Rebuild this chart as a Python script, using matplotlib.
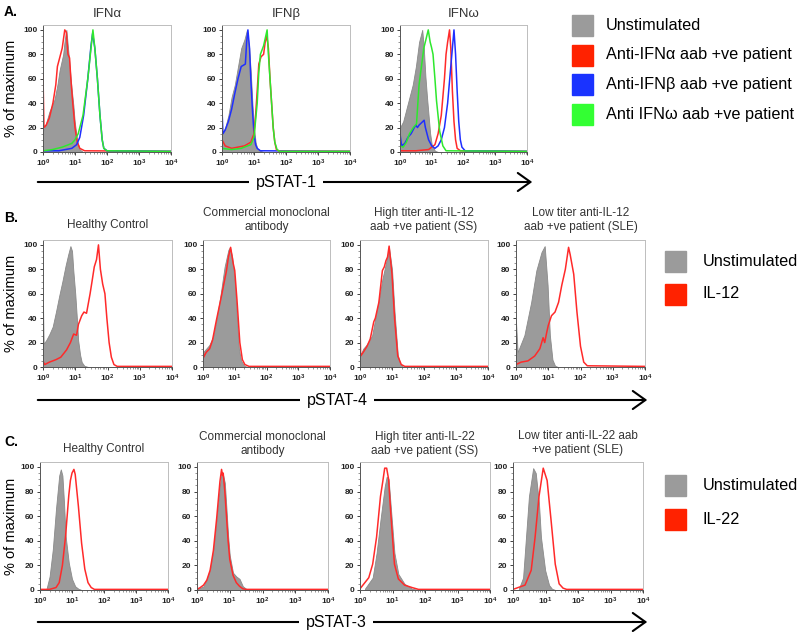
import numpy as np
import matplotlib
matplotlib.use("Agg")
import matplotlib.pyplot as plt
import matplotlib.ticker as mticker
from matplotlib.patches import Rectangle, FancyArrowPatch

plt.rcParams['font.family'] = ['Liberation Sans', 'DejaVu Sans']

# ---- data: x in log10 units (10^0..10^4), y in % of maximum ----
# Panel A: pSTAT-1
A1_UNSTIM = ([0.0, 0.1, 0.2, 0.31, 0.36, 0.45, 0.52, 0.63, 0.68, 0.73, 0.8, 0.89, 0.95, 0.99, 1.07, 1.15, 1.25],
             [17, 24, 33, 40, 43, 55, 67, 80, 92, 100, 80, 53, 38, 25, 9, 2, 0])
A1_ANTI_A = ([0.0, 0.03, 0.1, 0.2, 0.31, 0.4, 0.45, 0.55, 0.6, 0.68, 0.73, 0.78, 0.83, 0.87, 0.93, 1.0, 1.07, 1.15, 1.3, 4.0],
             [63, 20, 22, 28, 40, 55, 70, 80, 85, 100, 98, 80, 77, 60, 40, 20, 8, 3, 1, 0.5])
A1_ANTI_B = ([0.0, 0.5, 0.9, 1.05, 1.15, 1.27, 1.4, 1.5, 1.55, 1.62, 1.7, 1.78, 1.85, 1.9, 2.0, 4.0],
             [1, 1, 3, 6, 12, 30, 60, 87, 97, 85, 60, 30, 10, 3, 1, 0.5])
A1_ANTI_W = ([0.0, 0.3, 0.6, 0.9, 1.0, 1.1, 1.25, 1.4, 1.5, 1.56, 1.62, 1.7, 1.78, 1.85, 1.9, 2.0, 4.0],
             [1, 2, 4, 7, 10, 15, 30, 60, 85, 100, 85, 60, 30, 10, 3, 1, 0.5])

A2_UNSTIM = ([0.0, 0.1, 0.2, 0.3, 0.4, 0.5, 0.6, 0.7, 0.78, 0.85, 0.9, 0.95, 1.0, 1.05, 1.1, 1.2, 1.3],
             [15, 20, 30, 45, 55, 70, 85, 92, 100, 85, 65, 40, 20, 8, 3, 1, 0])
A2_ANTI_A = ([0.0, 0.1, 0.2, 0.3, 0.5, 0.7, 0.9, 1.0, 1.05, 1.1, 1.15, 1.22, 1.3, 1.35, 1.4, 1.45, 1.5, 1.55, 1.6, 1.65, 1.7, 1.8, 4.0],
             [10, 5, 4, 3, 4, 5, 8, 15, 30, 50, 72, 78, 80, 90, 95, 85, 60, 40, 20, 8, 2, 0.5, 0.5])
A2_ANTI_B = ([0.0, 0.03, 0.1, 0.2, 0.3, 0.4, 0.5, 0.6, 0.73, 0.77, 0.81, 0.86, 0.9, 0.95, 1.0, 1.05, 1.1, 1.2, 4.0],
             [35, 15, 18, 25, 35, 48, 60, 70, 72, 90, 100, 85, 60, 35, 15, 6, 3, 1, 0.5])
A2_ANTI_W = ([0.0, 0.3, 0.6, 0.9, 1.0, 1.1, 1.15, 1.2, 1.3, 1.41, 1.45, 1.5, 1.55, 1.6, 1.65, 1.72, 1.8, 4.0],
             [3, 2, 3, 6, 12, 40, 65, 80, 87, 100, 80, 60, 40, 20, 8, 2, 0.5, 0.5])

A3_UNSTIM = ([0.0, 0.1, 0.2, 0.3, 0.4, 0.5, 0.55, 0.6, 0.7, 0.75, 0.8, 0.85, 0.9, 0.95, 1.0, 1.1, 1.2],
             [20, 25, 35, 45, 55, 70, 80, 90, 100, 85, 62, 45, 30, 15, 6, 1, 0])
A3_ANTI_A = ([0.0, 0.5, 0.9, 1.1, 1.2, 1.3, 1.4, 1.45, 1.5, 1.56, 1.6, 1.65, 1.7, 1.75, 1.8, 1.9, 4.0],
             [1, 1, 2, 6, 15, 30, 60, 80, 90, 100, 85, 50, 25, 10, 3, 1, 0.5])
A3_ANTI_B = ([0.0, 0.05, 0.15, 0.25, 0.35, 0.45, 0.5, 0.55, 0.6, 0.76, 0.8, 0.9, 1.0, 1.1, 1.2, 1.3, 1.4, 1.5, 1.55, 1.6, 1.65, 1.7, 1.75, 1.8, 1.85, 1.9, 1.95, 2.05, 4.0],
             [15, 5, 7, 12, 15, 20, 22, 20, 22, 26, 20, 10, 5, 3, 5, 10, 20, 40, 55, 70, 85, 100, 80, 50, 25, 10, 4, 1, 0.5])
A3_ANTI_W = ([0.0, 0.1, 0.2, 0.3, 0.42, 0.52, 0.6, 0.7, 0.75, 0.89, 0.95, 0.99, 1.04, 1.1, 1.15, 1.25, 1.35, 1.45, 4.0],
             [5, 4, 8, 15, 20, 23, 55, 75, 85, 100, 90, 86, 80, 60, 42, 17, 5, 1, 0.5])

# Panel B: pSTAT-4
B1_UNSTIM = ([0.0, 0.02, 0.1, 0.2, 0.3, 0.4, 0.5, 0.6, 0.7, 0.78, 0.85, 0.9, 0.94, 1.0, 1.05, 1.09, 1.15, 1.2, 1.28, 1.4],
             [51, 19, 22, 27, 33, 45, 58, 70, 83, 92, 99, 95, 79, 60, 40, 22, 10, 4, 1, 0])
B1_IL12 = ([0.0, 0.05, 0.2, 0.4, 0.55, 0.73, 0.85, 0.95, 1.04, 1.1, 1.2, 1.27, 1.35, 1.46, 1.52, 1.59, 1.66, 1.72, 1.78, 1.85, 1.92, 1.98, 2.05, 2.12, 2.2, 2.3, 4.0],
           [5, 2, 4, 6, 8, 14, 20, 27, 26, 35, 42, 45, 44, 60, 70, 82, 88, 100, 80, 68, 60, 40, 20, 8, 2, 0.5, 0.5])
B2_UNSTIM = ([0.0, 0.1, 0.2, 0.32, 0.42, 0.53, 0.68, 0.8, 0.85, 0.92, 1.0, 1.07, 1.13, 1.2, 1.3, 1.4],
             [12, 15, 18, 25, 38, 55, 82, 96, 98, 90, 70, 40, 15, 5, 1, 0])
B2_MAB = ([0.0, 0.02, 0.1, 0.21, 0.3, 0.42, 0.58, 0.74, 0.8, 0.87, 0.95, 1.0, 1.07, 1.16, 1.24, 1.32, 1.45, 4.0],
          [16, 8, 12, 15, 22, 38, 58, 79, 90, 98, 85, 79, 55, 20, 6, 2, 0.5, 0.5])
B3_UNSTIM = ([0.0, 0.05, 0.1, 0.2, 0.3, 0.38, 0.48, 0.59, 0.7, 0.81, 0.91, 1.0, 1.08, 1.18, 1.25, 1.35],
             [10, 12, 15, 18, 22, 26, 40, 55, 72, 85, 97, 80, 45, 10, 3, 0])
B3_SS = ([0.0, 0.02, 0.1, 0.22, 0.32, 0.43, 0.48, 0.59, 0.7, 0.76, 0.81, 0.86, 0.91, 1.0, 1.08, 1.18, 1.29, 1.4, 4.0],
         [35, 9, 12, 17, 23, 37, 40, 53, 79, 82, 87, 90, 99, 76, 40, 9, 2, 0.5, 0.5])
B4_UNSTIM = ([0.0, 0.05, 0.26, 0.47, 0.63, 0.79, 0.89, 0.98, 1.05, 1.13, 1.21, 1.3],
             [37, 12, 26, 53, 79, 94, 99, 67, 26, 6, 1, 0])
B4_SLE = ([0.0, 0.16, 0.37, 0.58, 0.74, 0.84, 0.89, 0.95, 1.0, 1.1, 1.21, 1.32, 1.42, 1.53, 1.63, 1.68, 1.79, 1.89, 2.0, 2.1, 2.21, 4.0],
          [2, 4, 5, 9, 15, 24, 20, 28, 34, 42, 45, 53, 67, 80, 98, 92, 76, 45, 17, 4, 1, 0.5])

# Panel C: pSTAT-3
C1_UNSTIM = ([0.2, 0.3, 0.4, 0.5, 0.6, 0.65, 0.7, 0.75, 0.8, 0.9, 1.0, 1.1, 1.2, 1.3],
             [0.5, 11, 33, 66, 93, 98, 93, 71, 44, 22, 9, 3, 1, 0])
C1_IL22 = ([0.0, 0.3, 0.5, 0.6, 0.7, 0.8, 0.9, 0.95, 1.0, 1.06, 1.1, 1.2, 1.3, 1.4, 1.5, 1.6, 1.7, 4.0],
           [0.5, 0.5, 2, 6, 20, 44, 77, 89, 95, 98, 94, 68, 38, 17, 6, 2, 0.5, 0.5])
C2_UNSTIM = ([0.0, 0.2, 0.3, 0.4, 0.5, 0.6, 0.7, 0.75, 0.8, 0.85, 0.9, 0.95, 1.0, 1.1, 1.2, 1.3, 1.4, 1.5, 1.6],
             [0.5, 3, 9, 17, 33, 58, 85, 95, 93, 87, 66, 44, 28, 14, 11, 9, 3, 1, 0])
C2_MAB = ([0.0, 0.1, 0.2, 0.3, 0.4, 0.5, 0.6, 0.7, 0.75, 0.78, 0.8, 0.85, 0.9, 0.95, 1.0, 1.1, 1.2, 1.3, 1.4, 1.5, 4.0],
          [0.5, 2, 4, 8, 16, 32, 58, 88, 98, 93, 95, 80, 60, 40, 25, 12, 6, 3, 1, 0.5, 0.5])
C3_UNSTIM = ([0.15, 0.39, 0.51, 0.63, 0.76, 0.82, 0.88, 0.94, 1.06, 1.18, 1.37, 1.6, 1.8],
             [1, 10, 30, 57, 84, 92, 90, 70, 30, 13, 5, 1, 0])
C3_SS = ([0.0, 0.15, 0.27, 0.39, 0.51, 0.63, 0.7, 0.76, 0.82, 0.88, 0.94, 1.06, 1.18, 1.37, 1.6, 1.8, 4.0],
         [1, 6, 10, 21, 43, 76, 88, 99, 99, 90, 65, 21, 9, 4, 2, 0.5, 0.5])
C4_UNSTIM = ([0.18, 0.31, 0.4, 0.49, 0.62, 0.7, 0.8, 0.86, 0.99, 1.11, 1.2, 1.3],
             [1, 10, 43, 76, 99, 95, 70, 43, 16, 4, 1, 0])
C4_SLE = ([0.0, 0.37, 0.56, 0.68, 0.8, 0.93, 1.05, 1.17, 1.3, 1.42, 1.54, 1.65, 4.0],
          [0.5, 4, 16, 43, 76, 99, 89, 57, 21, 5, 1.5, 0.5, 0.5])

GRAY = '#9b9b9b'
RED = '#ff2a2a'
BLUE = '#1f2fff'
GREEN = '#2ee82e'

fig = plt.figure(figsize=(8, 6.32), dpi=100)
W, H = 800, 632


def px_axes(l, t, r, b):
    return fig.add_axes([l / W, 1 - b / H, (r - l) / W, (b - t) / H])


def histo_panel(box, unstim, lines, title, title_y, tsize=8.5):
    ax = px_axes(*box)
    ux, uy = unstim
    ax.fill_between(10 ** np.array(ux), uy, 0, color=GRAY, lw=0.6,
                    edgecolor='#8a8a8a', zorder=1)
    for (xs, ys), c in lines:
        ax.plot(10 ** np.array(xs), ys, color=c, lw=1.1, zorder=2)
    ax.set_xscale('log')
    ax.set_xlim(1, 1e4)
    ax.set_ylim(0, 104)
    ax.set_yticks([0, 20, 40, 60, 80, 100])
    ax.yaxis.set_minor_locator(mticker.MultipleLocator(5))
    ax.xaxis.set_major_locator(mticker.LogLocator(base=10, numticks=6))
    ax.xaxis.set_minor_locator(mticker.LogLocator(base=10, subs=np.arange(2, 10), numticks=12))
    ax.xaxis.set_minor_formatter(mticker.NullFormatter())
    ax.tick_params(which='major', labelsize=6, length=2.5, width=0.6, pad=1.5, colors='#222222')
    ax.tick_params(which='minor', length=1.5, width=0.4, colors='#444444')
    for lab in ax.get_xticklabels() + ax.get_yticklabels():
        lab.set_fontweight('bold')
    for s in ['top', 'right']:
        ax.spines[s].set_color('#bdbdbd')
    for s in ['left', 'bottom']:
        ax.spines[s].set_color('#555555')
    for s in ax.spines.values():
        s.set_linewidth(0.7)
    cx = (box[0] + box[2]) / 2
    fig.text(cx / W, 1 - title_y / H, title, ha='center', va='center',
             fontsize=tsize, color='#333333', linespacing=1.25)
    return ax


# Row A
histo_panel((43, 25, 171, 152), A1_UNSTIM,
            [(A1_ANTI_A, RED), (A1_ANTI_B, BLUE), (A1_ANTI_W, GREEN)], 'IFNα', 14, 9.5)
histo_panel((222, 25, 350, 152), A2_UNSTIM,
            [(A2_ANTI_B, BLUE), (A2_ANTI_A, RED), (A2_ANTI_W, GREEN)], 'IFNβ', 14, 9.5)
histo_panel((400, 25, 527, 152), A3_UNSTIM,
            [(A3_ANTI_A, RED), (A3_ANTI_B, BLUE), (A3_ANTI_W, GREEN)], 'IFNω', 14, 9.5)

# Row B
histo_panel((43, 240, 172, 367), B1_UNSTIM, [(B1_IL12, RED)], 'Healthy Control', 225)
histo_panel((203, 240, 330, 367), B2_UNSTIM, [(B2_MAB, RED)], 'Commercial monoclonal\nantibody', 220)
histo_panel((360, 240, 488, 367), B3_UNSTIM, [(B3_SS, RED)], 'High titer anti-IL-12\naab +ve patient (SS)', 220)
histo_panel((516, 240, 645, 367), B4_UNSTIM, [(B4_SLE, RED)], 'Low titer anti-IL-12\naab +ve patient (SLE)', 220)

# Row C
histo_panel((40, 462, 168, 590), C1_UNSTIM, [(C1_IL22, RED)], 'Healthy Control', 449)
histo_panel((197, 462, 328, 590), C2_UNSTIM, [(C2_MAB, RED)], 'Commercial monoclonal\nantibody', 444)
histo_panel((360, 462, 490, 590), C3_UNSTIM, [(C3_SS, RED)], 'High titer anti-IL-22\naab +ve patient (SS)', 444)
histo_panel((513, 462, 643, 590), C4_UNSTIM, [(C4_SLE, RED)], 'Low titer anti-IL-22 aab\n+ve patient (SLE)', 443)

# overlay in pixel coordinates for labels, arrows and legends
ov = fig.add_axes([0, 0, 1, 1], zorder=-1)
ov.set_xlim(0, W)
ov.set_ylim(H, 0)
ov.axis('off')

for letter, y in [('A.', 12), ('B.', 218), ('C.', 442)]:
    ov.text(4, y, letter, fontsize=10, fontweight='bold', va='center', ha='left')

for y in [88, 303, 526]:
    ov.text(11, y, '% of maximum', fontsize=10.5, rotation=90, ha='center', va='center')

for y, x0, x1, label, lx in [(182, 35, 535, 'pSTAT-1', 286),
                             (400, 35, 650, 'pSTAT-4', 337),
                             (622, 35, 650, 'pSTAT-3', 336)]:
    ov.add_patch(FancyArrowPatch((x0, y), (x1, y), arrowstyle='->,head_length=7,head_width=5',
                                 lw=1.5, color='black', mutation_scale=1.3))
    ov.text(lx, y + 1, label, fontsize=11.5, ha='center', va='center',
            bbox=dict(facecolor='white', edgecolor='none', pad=5))

legend_a = [('Unstimulated', GRAY), ('Anti-IFNα aab +ve patient', '#ff2200'),
            ('Anti-IFNβ aab +ve patient', '#1a33ff'), ('Anti IFNω aab +ve patient', '#33ff33')]
for (lab, c), yc in zip(legend_a, [25, 55, 84, 114]):
    ov.add_patch(Rectangle((572, yc - 10.5), 21, 21, color=c))
    ov.text(606, yc, lab, fontsize=11.7, va='center', ha='left')

for items, ys in [([('Unstimulated', GRAY), ('IL-12', '#ff2200')], [261, 294]),
                  ([('Unstimulated', GRAY), ('IL-22', '#ff2200')], [485, 519])]:
    for (lab, c), yc in zip(items, ys):
        ov.add_patch(Rectangle((665, yc - 10.5), 21, 21, color=c))
        ov.text(703, yc, lab, fontsize=11.7, va='center', ha='left')

fig.savefig('out.png', dpi=100)
